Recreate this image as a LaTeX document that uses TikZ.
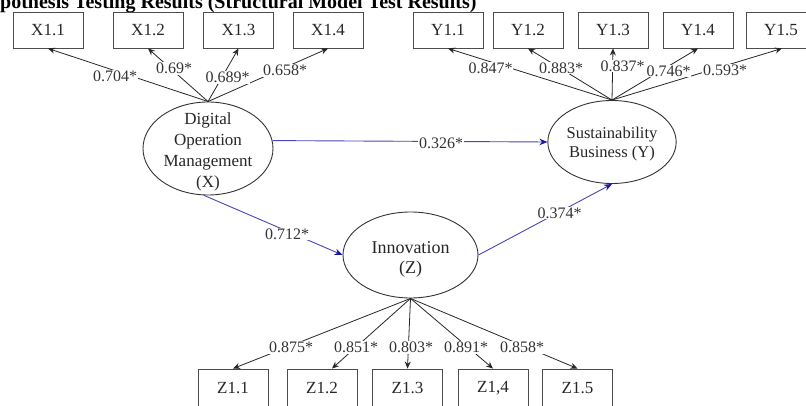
\documentclass[tikz,border=0pt]{standalone}
\usepackage{fontspec}
\setmainfont{Liberation Serif}
\usetikzlibrary{shapes.geometric,arrows.meta,calc}
\definecolor{sblue}{RGB}{70,70,185}
\definecolor{tipblue}{RGB}{25,25,160}
\newcommand\lattext[2]{\raisebox{#1}[0pt][0pt]{\begin{tabular}{@{}c@{}}#2\end{tabular}}}
\begin{document}
\begin{tikzpicture}[x=1pt,y=-1pt,
  mbox/.style={draw=black!70,line width=0.9pt,minimum width=70pt,minimum height=36pt,inner sep=0pt,font=\fontsize{17}{20}\selectfont,text=black!85},
  latent/.style={draw=black!80,line width=0.9pt,ellipse,inner sep=0pt,text=black!85},
  load/.style={draw=black!85,line width=0.8pt,-{Stealth[length=7pt,width=6pt]}},
  spath/.style={draw=sblue,line width=0.9pt,-{Stealth[length=8pt,width=6.5pt,color=tipblue]}},
  lbl/.style={fill=white,inner sep=0.6pt,font=\fontsize{16}{18}\selectfont,text=black!80}
]
\useasboundingbox (0,0) rectangle (806,406);
\clip (0,0) rectangle (806,406);

% title (cut off at the top and left, as in the reference)
\node[anchor=base west,inner sep=0pt,font=\bfseries\fontsize{20}{22}\selectfont] (title) at (0,9) {pothesis Testing Results (Structural Model Test Results)};

% indicator boxes
\node[mbox] (X11) at (48,30) {X1.1};
\node[mbox] (X12) at (148,30) {X1.2};
\node[mbox] (X13) at (238.5,30) {X1.3};
\node[mbox] (X14) at (328,30) {X1.4};

\node[mbox] (Y11) at (448,30) {Y1.1};
\node[mbox] (Y12) at (528,30) {Y1.2};
\node[mbox] (Y13) at (613,30) {Y1.3};
\node[mbox] (Y14) at (698,30) {Y1.4};
\node[mbox] (Y15) at (781,30) {Y1.5};

\node[mbox,minimum height=38pt] (Z11) at (233,388) {Z1.1};
\node[mbox,minimum height=38pt] (Z12) at (322,388) {Z1.2};
\node[mbox,minimum height=38pt] (Z13) at (407.5,388) {Z1.3};
\node[mbox,minimum height=38pt] (Z14) at (493,388) {Z1,4};
\node[mbox,minimum height=38pt] (Z15) at (577.5,388) {Z1.5};

% latent variables
\node[latent,minimum width=130pt,minimum height=93pt,font=\fontsize{17}{21}\selectfont] (Xe) at (208,148.5)
  {\lattext{-7.6pt}{Digital\\Operation\\Management\\(X)}};
\node[latent,minimum width=122pt,minimum height=83pt,font=\fontsize{16.5}{19}\selectfont] (Ye) at (612,142)
  {\lattext{-6.5pt}{Sustainability\\Business (Y)}};
\node[latent,minimum width=135pt,minimum height=86pt,font=\fontsize{18}{20}\selectfont] (Ze) at (410.5,255)
  {\lattext{-8.4pt}{Innovation\\(Z)}};

% loadings
\draw[load] (Xe.north) -- (X11.south);
\draw[load] (Xe.north) -- (X12.south);
\draw[load] (Xe.north) -- (X13.south);
\draw[load] (Xe.north) -- (X14.south);

\draw[load] (Ye.north) -- (Y11.south);
\draw[load] (Ye.north) -- (Y12.south);
\draw[load] (Ye.north) -- (Y13.south);
\draw[load] (Ye.north) -- (Y14.south);
\draw[load] (Ye.north) -- ($(Y15.south)+(1,0)$);

\draw[load] (Ze.south) -- (Z11.north);
\draw[load] (Ze.south) -- ($(Z12.north)+(10,0)$);
\draw[load] (Ze.south) -- (Z13.north);
\draw[load] (Ze.south) -- (Z14.north);
\draw[load] (Ze.south) -- (Z15.north);

% structural paths
\draw[spath] (Xe.7) -- (Ye.west);
\draw[spath] (Xe.265) -- (Ze.west);
\draw[spath] (Ze.east) -- (Ye.south);

% coefficient labels
\node[lbl] (lx1) at (115,76) {0.704*};
\node[lbl] (lx2) at (174,68.5) {0.69*};
\node[lbl] (lx3) at (227.5,77.5) {0.689*};
\node[lbl] (lx4) at (285,70.5) {0.658*};

\node[lbl] (ly1) at (490.5,68) {0.847*};
\node[lbl] (ly2) at (561,68) {0.883*};
\node[lbl] (ly3) at (622.5,66) {0.837*};
\node[lbl] (ly4) at (668.5,71) {0.746*};
\node[lbl] (ly5) at (725,70) {0.593*};

\node[lbl] (lz1) at (291,347.5) {0.875*};
\node[lbl] (lz2) at (356,347.5) {0.851*};
\node[lbl] (lz3) at (411,347.5) {0.803*};
\node[lbl] (lz4) at (466,347.5) {0.891*};
\node[lbl] (lz5) at (522,347.5) {0.858*};

\node[lbl] (lxy) at (441,143) {0.326*};
\node[lbl] (lxz) at (287,234) {0.712*};
\node[lbl] (lzy) at (559.5,213) {0.374*};
\end{tikzpicture}
\end{document}
